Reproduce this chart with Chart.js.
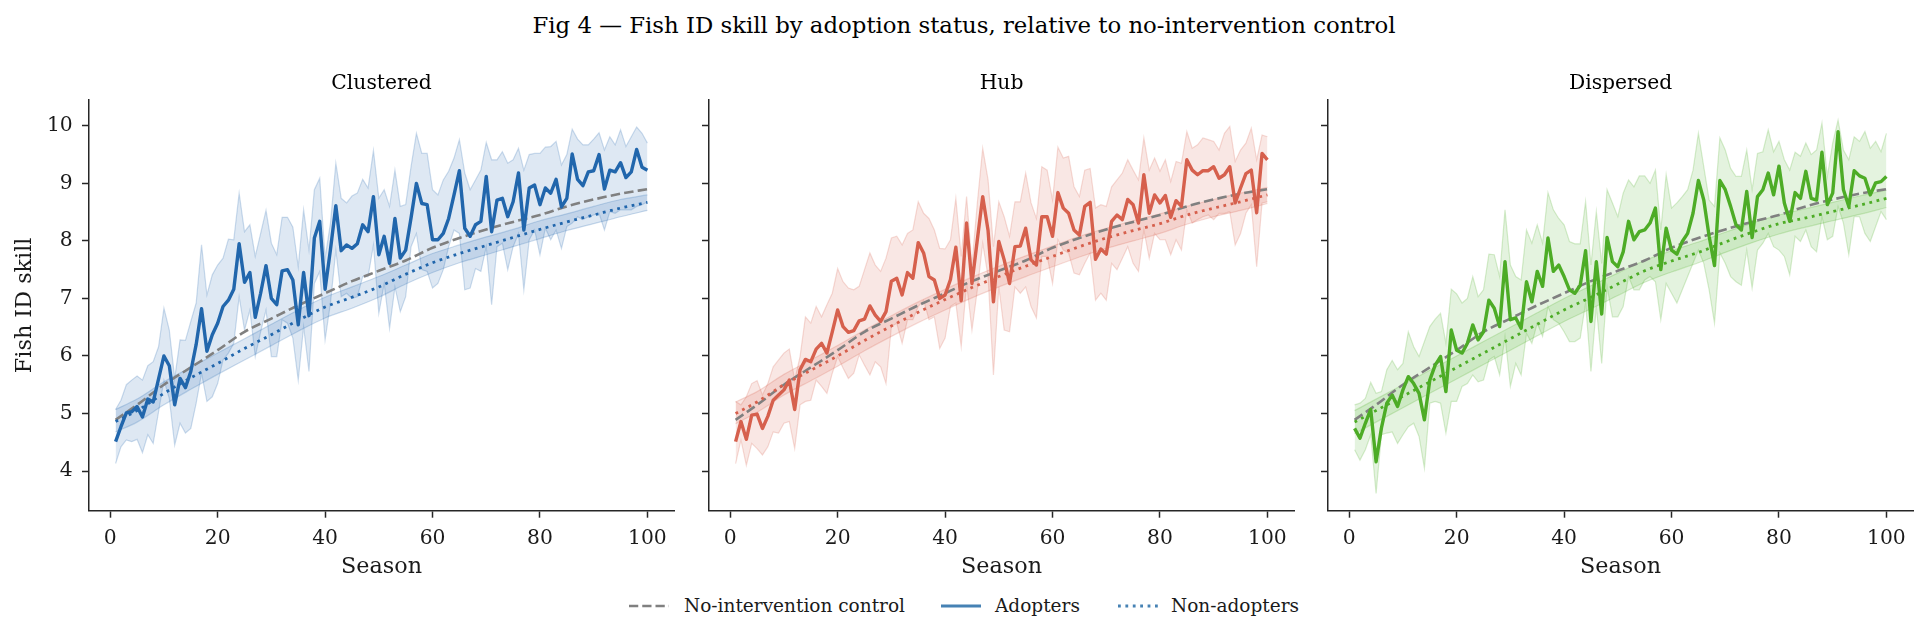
<!DOCTYPE html>
<html>
<head>
<meta charset="utf-8">
<title>Fig 4 - Fish ID skill</title>
<script src="https://cdn.jsdelivr.net/npm/chart.js@4.4.1/dist/chart.umd.min.js"></script>
<style>
  html, body { margin: 0; padding: 0; background: #fff; }
  body { width: 1928px; height: 638px; position: relative; overflow: hidden; font-family: 'DejaVu Serif', serif; color: #1a1a1a; }
  canvas { position: absolute; }
  #suptitle { position: absolute; left: 0; width: 1928px; top: 10px; line-height: 30px; text-align: center; font-size: 22.8px; color: #000; }
  .key { position: absolute; top: 591px; line-height: 30px; font-size: 18.5px; white-space: nowrap; color: #1a1a1a; }
  .sample { position: absolute; top: 601px; }
</style>
</head>
<body>
<div id="suptitle">Fig 4 — Fish ID skill by adoption status, relative to no-intervention control</div>
<canvas id="c0"></canvas>
<canvas id="c1"></canvas>
<canvas id="c2"></canvas>

<svg class="sample" style="left:629px" width="40" height="10"><line x1="0" y1="5" x2="40" y2="5" stroke="#808080" stroke-width="2.5" stroke-dasharray="9.25 4"/></svg>
<span class="key" style="left:684px">No-intervention control</span>
<svg class="sample" style="left:941px" width="40" height="10"><line x1="0" y1="5" x2="40" y2="5" stroke="#4682b4" stroke-width="3.2"/></svg>
<span class="key" style="left:995px">Adopters</span>
<svg class="sample" style="left:1118px" width="40" height="10"><line x1="0" y1="5" x2="40" y2="5" stroke="#4682b4" stroke-width="2.8" stroke-dasharray="2.8 4.6"/></svg>
<span class="key" style="left:1171px">Non-adopters</span>

<script>
// seasons 1..100 for the noisy series, every 5th season for the smooth curves
const seasons = Array.from({length: 100}, (_, i) => i + 1);
const curveSeasons = [1, 5, 10, 15, 20, 25, 30, 35, 40, 45, 50, 55, 60, 65, 70, 75, 80, 85, 90, 95, 100];
const xTicks = [0, 20, 40, 60, 80, 100];
const yTicks = [4, 5, 6, 7, 8, 9, 10];
const panelNames = ['Clustered', 'Hub', 'Dispersed'];

// no-intervention control (same in every panel)
const control = [4.89, 5.15, 5.5, 5.8, 6.1, 6.42, 6.65, 6.88, 7.09, 7.3, 7.48, 7.66, 7.88, 8.05, 8.2, 8.33, 8.45, 8.6, 8.72, 8.82, 8.9];

// Clustered
const clusteredAdopters = [
  4.51, 4.77, 5.01, 5.03, 5.12, 4.94, 5.25, 5.2, 5.6, 6.0,
  5.83, 5.15, 5.61, 5.45, 5.73, 6.2, 6.82, 6.08, 6.37, 6.57,
  6.86, 6.97, 7.16, 7.95, 7.28, 7.45, 6.67, 7.09, 7.57, 7.0,
  6.89, 7.48, 7.5, 7.32, 6.54, 7.45, 6.7, 8.05, 8.34, 7.16,
  7.85, 8.61, 7.83, 7.93, 7.87, 7.95, 8.28, 8.16, 8.77, 7.76,
  8.08, 7.61, 8.39, 7.7, 7.84, 8.4, 9.0, 8.65, 8.63, 8.02,
  8.02, 8.13, 8.39, 8.8, 9.22, 8.22, 8.08, 8.28, 8.34, 9.12,
  8.16, 8.71, 8.74, 8.42, 8.68, 9.18, 8.19, 8.92, 8.97, 8.63,
  8.92, 8.83, 9.07, 8.59, 8.74, 9.51, 9.07, 8.96, 9.2, 9.22,
  9.5, 8.9, 9.23, 9.2, 9.36, 9.1, 9.2, 9.59, 9.28, 9.23
];
const clusteredHi = [
  5.07, 5.23, 5.5, 5.58, 5.65, 5.58, 5.83, 5.9, 6.16, 6.83,
  6.45, 5.61, 6.28, 6.27, 6.6, 6.92, 7.93, 7.06, 7.41, 7.58,
  7.7, 8.03, 8.02, 8.83, 8.16, 8.28, 7.73, 8.13, 8.53, 7.96,
  7.76, 8.41, 8.41, 8.24, 7.55, 8.54, 7.84, 8.89, 9.09, 7.7,
  8.31, 9.35, 8.74, 8.66, 8.78, 8.83, 9.07, 8.92, 9.57, 8.74,
  8.89, 8.6, 9.23, 8.6, 8.63, 9.29, 9.87, 9.52, 9.52, 8.89,
  8.8, 9.06, 9.21, 9.44, 9.76, 9.18, 8.89, 9.06, 9.23, 9.71,
  9.41, 9.41, 9.55, 9.35, 9.41, 9.61, 9.23, 9.5, 9.52, 9.52,
  9.63, 9.64, 9.73, 9.32, 9.5, 9.94, 9.77, 9.67, 9.67, 9.77,
  9.88, 9.58, 9.81, 9.67, 9.93, 9.64, 9.81, 9.98, 9.87, 9.7
];
const clusteredLo = [
  4.13, 4.42, 4.54, 4.51, 4.55, 4.32, 4.63, 4.48, 5.03, 5.58,
  5.26, 4.45, 4.83, 4.66, 4.74, 5.18, 5.7, 5.21, 5.29, 5.52,
  5.93, 6.05, 6.22, 7.03, 6.45, 6.8, 5.99, 6.42, 6.8, 5.99,
  5.99, 6.63, 6.57, 6.31, 5.58, 6.51, 5.73, 7.26, 7.47, 6.28,
  6.92, 7.84, 7.03, 7.09, 7.0, 7.03, 7.38, 7.38, 7.93, 6.74,
  7.26, 6.48, 7.2, 6.77, 7.03, 7.9, 8.13, 7.5, 7.47, 7.18,
  7.26, 7.5, 7.9, 8.19, 8.13, 7.15, 7.18, 7.52, 7.47, 7.9,
  6.89, 7.9, 7.96, 7.5, 7.9, 8.13, 7.15, 8.02, 8.19, 7.76,
  8.22, 8.02, 8.19, 7.87, 8.25, 8.31, 8.42, 8.37, 8.42, 8.45,
  8.48, 8.19, 8.51, 8.48, 8.54, 8.54, 8.54, 8.6, 8.63, 8.68
];
const clusteredNon = [4.86, 5.05, 5.35, 5.62, 5.87, 6.13, 6.37, 6.62, 6.85, 7.02, 7.2, 7.42, 7.62, 7.78, 7.92, 8.06, 8.2, 8.33, 8.45, 8.57, 8.67];
const clusteredNonHi = [5.07, 5.25, 5.55, 5.8, 6.05, 6.3, 6.55, 6.8, 7.02, 7.2, 7.38, 7.58, 7.78, 7.93, 8.07, 8.2, 8.35, 8.47, 8.6, 8.72, 8.8];
const clusteredNonLo = [4.68, 4.85, 5.15, 5.42, 5.68, 5.93, 6.18, 6.43, 6.66, 6.83, 7.02, 7.25, 7.45, 7.62, 7.76, 7.9, 8.04, 8.18, 8.3, 8.42, 8.53];

// Hub
const hubAdopters = [
  4.51, 4.86, 4.55, 4.97, 4.99, 4.74, 4.95, 5.23, 5.32, 5.41,
  5.58, 5.07, 5.76, 5.94, 5.9, 6.12, 6.22, 6.05, 6.42, 6.8,
  6.51, 6.41, 6.44, 6.61, 6.64, 6.87, 6.71, 6.6, 6.77, 7.3,
  7.35, 7.06, 7.45, 7.35, 7.97, 7.79, 7.38, 7.32, 7.0, 7.06,
  7.33, 7.89, 6.96, 8.31, 7.26, 8.02, 8.77, 8.18, 6.94, 7.99,
  7.67, 7.26, 7.9, 7.91, 8.22, 7.67, 7.58, 8.42, 8.42, 8.08,
  8.84, 8.57, 8.48, 8.19, 8.1, 8.6, 8.67, 7.68, 7.86, 7.77,
  8.34, 8.45, 8.37, 8.72, 8.63, 8.31, 9.15, 8.48, 8.8, 8.66,
  8.79, 8.41, 8.7, 8.6, 9.41, 9.23, 9.15, 9.22, 9.22, 9.29,
  9.09, 9.15, 9.29, 8.66, 8.92, 9.17, 9.23, 8.49, 9.52, 9.41
];
const hubHi = [
  5.21, 5.15, 5.29, 5.52, 5.57, 5.32, 5.52, 5.81, 5.93, 6.05,
  6.12, 5.58, 5.99, 6.68, 6.57, 6.86, 6.68, 6.89, 7.09, 7.52,
  7.29, 7.18, 7.15, 7.21, 7.5, 7.79, 7.58, 7.47, 7.7, 8.05,
  8.08, 7.93, 8.13, 8.19, 8.68, 8.48, 8.39, 8.19, 7.87, 7.86,
  8.02, 8.74, 7.73, 8.77, 7.58, 8.66, 9.61, 9.06, 7.9, 8.68,
  8.42, 8.08, 8.68, 8.68, 9.18, 8.66, 8.39, 9.29, 9.23, 8.71,
  9.63, 9.44, 9.47, 8.94, 8.77, 9.23, 9.26, 8.57, 8.63, 8.6,
  8.94, 9.06, 9.18, 9.41, 9.23, 9.06, 9.79, 9.23, 9.44, 9.21,
  9.41, 9.03, 9.38, 9.35, 9.9, 9.61, 9.67, 9.79, 9.76, 9.73,
  9.58, 9.87, 9.99, 9.38, 9.58, 9.7, 9.96, 9.41, 9.84, 9.81
];
const hubLo = [
  4.13, 4.54, 4.1, 4.48, 4.39, 4.28, 4.42, 4.68, 4.66, 4.83,
  4.86, 4.39, 5.15, 5.21, 5.23, 5.58, 5.47, 5.35, 5.7, 5.99,
  5.79, 5.61, 5.7, 6.02, 5.84, 5.67, 5.9, 5.81, 5.52, 6.51,
  6.57, 6.22, 6.63, 6.63, 6.86, 6.97, 6.63, 6.68, 6.13, 6.31,
  6.86, 6.92, 6.16, 7.26, 6.45, 7.15, 7.96, 7.38, 5.67, 7.2,
  6.45, 6.42, 7.2, 7.09, 7.2, 6.86, 6.66, 7.73, 7.73, 7.26,
  8.02, 7.84, 7.79, 7.44, 7.41, 7.61, 7.79, 6.97, 7.09, 6.97,
  7.61, 7.5, 7.7, 7.9, 7.61, 7.47, 8.19, 7.7, 8.13, 8.02,
  8.02, 7.76, 8.02, 7.84, 8.54, 8.31, 8.37, 8.42, 8.45, 8.37,
  8.48, 8.48, 8.51, 7.93, 8.13, 8.48, 8.63, 7.55, 8.66, 8.68
];
const hubNon = [5.0, 5.2, 5.5, 5.75, 6.0, 6.27, 6.52, 6.76, 6.98, 7.19, 7.38, 7.56, 7.73, 7.9, 8.05, 8.18, 8.3, 8.45, 8.57, 8.68, 8.8];
const hubNonHi = [5.2, 5.38, 5.68, 5.93, 6.18, 6.45, 6.7, 6.94, 7.16, 7.37, 7.56, 7.74, 7.91, 8.08, 8.22, 8.35, 8.47, 8.6, 8.72, 8.83, 8.93];
const hubNonLo = [4.82, 5.02, 5.32, 5.57, 5.82, 6.09, 6.34, 6.58, 6.8, 7.01, 7.2, 7.38, 7.55, 7.72, 7.87, 8.0, 8.13, 8.29, 8.42, 8.53, 8.65];

// Dispersed
const dispersedAdopters = [
  4.74, 4.57, 4.83, 5.07, 4.16, 4.75, 5.18, 5.32, 5.12, 5.41,
  5.64, 5.52, 5.35, 4.89, 5.58, 5.84, 5.99, 5.38, 6.45, 6.1,
  6.05, 6.22, 6.54, 6.28, 6.42, 6.97, 6.83, 6.51, 7.64, 6.63,
  6.66, 6.48, 7.29, 6.94, 7.47, 7.21, 8.05, 7.47, 7.58, 7.38,
  7.15, 7.09, 7.23, 7.83, 6.6, 7.64, 6.73, 8.06, 7.64, 7.55,
  7.81, 8.34, 8.02, 8.16, 8.19, 8.31, 8.57, 7.5, 8.22, 7.84,
  7.77, 7.99, 8.13, 8.48, 9.05, 8.71, 8.08, 7.57, 9.05, 8.89,
  8.6, 8.28, 8.19, 8.86, 8.06, 8.77, 8.89, 9.18, 8.8, 9.3,
  8.66, 8.34, 8.84, 8.74, 9.21, 8.74, 8.71, 9.54, 8.63, 8.83,
  9.9, 8.89, 8.6, 9.22, 9.13, 9.09, 8.8, 9.01, 9.03, 9.12
];
const dispersedHi = [
  5.15, 5.18, 5.26, 5.54, 5.35, 5.38, 5.76, 5.92, 5.76, 5.87,
  6.42, 6.16, 5.99, 6.25, 6.51, 6.64, 6.74, 6.22, 7.16, 7.08,
  6.92, 7.0, 7.38, 7.03, 7.15, 7.77, 7.76, 7.38, 8.54, 7.58,
  7.38, 7.32, 8.19, 7.96, 8.28, 7.96, 8.84, 8.54, 8.39, 8.28,
  7.99, 7.95, 7.95, 8.68, 7.58, 8.51, 7.61, 8.89, 8.66, 8.42,
  8.83, 9.06, 8.94, 9.13, 9.13, 9.0, 9.23, 8.19, 9.15, 8.57,
  8.66, 8.77, 8.89, 9.23, 9.87, 9.29, 8.71, 8.6, 9.79, 9.58,
  9.26, 9.12, 9.12, 9.58, 8.89, 9.52, 9.55, 9.93, 9.55, 9.73,
  9.41, 9.23, 9.54, 9.47, 9.7, 9.5, 9.58, 10.05, 9.12, 9.7,
  10.1, 9.58, 9.41, 9.81, 9.73, 9.9, 9.61, 9.73, 9.55, 9.87
];
const dispersedLo = [
  4.37, 4.19, 4.37, 4.63, 3.61, 4.63, 4.66, 4.68, 4.48, 4.63,
  4.77, 4.83, 4.6, 4.05, 5.18, 5.21, 5.18, 4.66, 5.21, 5.21,
  5.47, 5.52, 5.67, 5.55, 5.58, 5.93, 5.99, 5.67, 6.34, 5.47,
  5.87, 5.67, 6.39, 6.22, 6.57, 6.34, 6.86, 6.63, 6.57, 6.42,
  6.25, 6.25, 6.31, 6.92, 5.73, 6.86, 5.87, 7.21, 6.68, 6.68,
  6.86, 7.38, 7.15, 7.15, 7.32, 7.38, 7.29, 6.63, 7.26, 7.09,
  6.92, 7.15, 7.38, 7.61, 7.84, 7.61, 7.15, 6.57, 7.79, 7.61,
  7.38, 7.29, 7.23, 7.84, 7.18, 7.84, 7.96, 8.13, 7.9, 7.84,
  7.73, 7.41, 8.08, 7.99, 8.19, 7.9, 7.81, 8.42, 8.02, 8.08,
  8.6, 8.31, 7.76, 8.42, 8.42, 8.13, 7.99, 8.25, 8.51, 8.37
];
const dispersedNon = [4.85, 5.05, 5.3, 5.55, 5.8, 6.05, 6.3, 6.55, 6.8, 7.02, 7.25, 7.48, 7.65, 7.8, 7.98, 8.15, 8.3, 8.4, 8.51, 8.62, 8.74];
const dispersedNonHi = [5.05, 5.25, 5.5, 5.75, 6.0, 6.25, 6.5, 6.75, 7.0, 7.22, 7.44, 7.66, 7.83, 7.98, 8.15, 8.31, 8.45, 8.56, 8.67, 8.78, 8.88];
const dispersedNonLo = [4.65, 4.85, 5.1, 5.35, 5.6, 5.85, 6.1, 6.35, 6.6, 6.82, 7.05, 7.28, 7.46, 7.62, 7.8, 7.97, 8.12, 8.24, 8.35, 8.46, 8.58];

const panels = [
  {name: panelNames[0], rgb: '33,102,172', adopters: clusteredAdopters, lo: clusteredLo, hi: clusteredHi,
   non: clusteredNon, nonLo: clusteredNonLo, nonHi: clusteredNonHi},
  {name: panelNames[1], rgb: '214,96,77', adopters: hubAdopters, lo: hubLo, hi: hubHi,
   non: hubNon, nonLo: hubNonLo, nonHi: hubNonHi},
  {name: panelNames[2], rgb: '77,172,38', adopters: dispersedAdopters, lo: dispersedLo, hi: dispersedHi,
   non: dispersedNon, nonLo: dispersedNonLo, nonHi: dispersedNonHi}
];

Chart.defaults.font.family = "'DejaVu Serif', serif";
Chart.defaults.color = '#1a1a1a';

// canvas placement: chart areas line up with the three subplot frames
const frameTop = 56;
const frameHeight = 528;
const areaWidth = 585;
const xAxisHeight = 73.3;
const canvasLefts = [0, 695, 1314];
const yAxisWidths = [89, 14, 14];
const ink = '#262626';

function pts(xs, ys) {
  return ys.map((y, i) => ({x: xs[i], y: y}));
}

panels.forEach(function(p, k) {
  const canvas = document.getElementById('c' + k);
  canvas.width = yAxisWidths[k] + areaWidth + 16;
  canvas.height = frameHeight;
  canvas.style.left = canvasLefts[k] + 'px';
  canvas.style.top = frameTop + 'px';

  const solid = 'rgb(' + p.rgb + ')';
  const edge = 'rgba(' + p.rgb + ',0.22)';
  const shade = 'rgba(' + p.rgb + ',0.15)';

  new Chart(canvas, {
    type: 'line',
    data: {
      datasets: [
        {data: pts(seasons, p.lo), borderColor: edge, borderWidth: 1.2, fill: false, order: 6},
        {data: pts(seasons, p.hi), borderColor: edge, borderWidth: 1.2, backgroundColor: shade, fill: '-1', order: 5},
        {data: pts(curveSeasons, p.nonLo), borderColor: edge, borderWidth: 1.2, fill: false, order: 4, cubicInterpolationMode: 'monotone'},
        {data: pts(curveSeasons, p.nonHi), borderColor: edge, borderWidth: 1.2, backgroundColor: shade, fill: '-1', order: 3, cubicInterpolationMode: 'monotone'},
        {label: 'No-intervention control', data: pts(curveSeasons, control), borderColor: '#808080', borderWidth: 2.6,
         borderDash: [9.5, 4.2], fill: false, order: 2, cubicInterpolationMode: 'monotone'},
        {label: 'Non-adopters', data: pts(curveSeasons, p.non), borderColor: solid, borderWidth: 2.8,
         borderDash: [2.8, 4.6], fill: false, order: 1, cubicInterpolationMode: 'monotone'},
        {label: 'Adopters', data: pts(seasons, p.adopters), borderColor: solid, borderWidth: 3.4,
         borderJoinStyle: 'round', fill: false, order: 0}
      ]
    },
    options: {
      responsive: false,
      animation: false,
      devicePixelRatio: 1,
      layout: {padding: {right: 16}},
      elements: {point: {radius: 0}, line: {tension: 0}},
      plugins: {
        legend: {display: false},
        tooltip: {enabled: false},
        title: {display: true, fullSize: false, text: p.name, color: '#000', font: {size: 20.3, weight: 'normal'},
                padding: {top: 15.4, bottom: 4.2}}
      },
      scales: {
        x: {
          type: 'linear', min: -3.95, max: 104.95,
          afterBuildTicks: function(s) { s.ticks = xTicks.map(v => ({value: v})); },
          afterFit: function(s) { s.height = xAxisHeight; },
          grid: {drawOnChartArea: false, tickLength: 7, tickWidth: 1.5, tickColor: ink},
          border: {display: true, color: ink, width: 1.5},
          ticks: {font: {size: 20.3}, padding: 8.6, maxRotation: 0, autoSkip: false, color: '#1a1a1a'},
          title: {display: true, text: 'Season', font: {size: 22.3}, color: '#1a1a1a', padding: {top: 0, bottom: 3.6}}
        },
        y: {
          type: 'linear', min: 3.31, max: 10.45,
          afterBuildTicks: function(s) { s.ticks = yTicks.map(v => ({value: v})); },
          afterFit: function(s) { s.width = yAxisWidths[k]; },
          grid: {drawOnChartArea: false, tickLength: 7, tickWidth: 1.5, tickColor: ink},
          border: {display: true, color: ink, width: 1.5},
          ticks: {font: {size: 20.3}, padding: 9.3, color: '#1a1a1a',
                  callback: function(v) { return k === 0 ? String(v) : ''; }},
          title: {display: k === 0, text: 'Fish ID skill', font: {size: 22.3}, color: '#1a1a1a', padding: {top: 11.6, bottom: 0}}
        }
      }
    }
  });
});
</script>
</body>
</html>
